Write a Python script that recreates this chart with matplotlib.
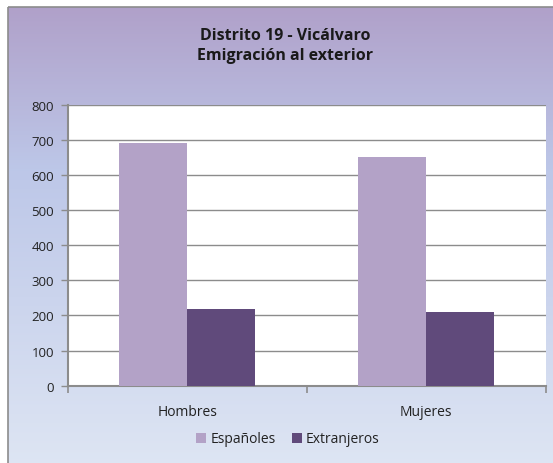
import numpy as np
import matplotlib
matplotlib.use("Agg")
import matplotlib.pyplot as plt
from matplotlib.patches import Rectangle
from matplotlib.colors import LinearSegmentedColormap

categories = ["Hombres", "Mujeres"]
series_names = ["Españoles", "Extranjeros"]
espanoles = [692, 652]
extranjeros = [219, 210]
yticks = [0, 100, 200, 300, 400, 500, 600, 700, 800]
title = "Distrito 19 - Vicálvaro\nEmigración al exterior"

W, H = 553, 464
fig = plt.figure(figsize=(W / 100, H / 100), dpi=100)
fig.patch.set_facecolor("white")

# background gradient
bg = fig.add_axes([0, 0, 1, 1], zorder=-10)
bg.axis("off")
cmap = LinearSegmentedColormap.from_list(
    "bg", [(0.0, (0.69, 0.63, 0.79)), (0.35, (0.74, 0.78, 0.91)), (1.0, (0.87, 0.90, 0.955))]
)
grad = np.linspace(0, 1, 256).reshape(-1, 1)
bg.imshow(grad, cmap=cmap, aspect="auto", extent=[8, W + 5, H + 5, 8], origin="upper")
bg.add_patch(Rectangle((8, 8), W, H, fill=False, edgecolor="#8c8c8c", linewidth=1.2))
bg.set_xlim(0, W)
bg.set_ylim(H, 0)

ax = fig.add_axes([67.7 / W, 1 - 386.6 / H, (545.7 - 67.7) / W, (386.6 - 106) / H])
ax.set_facecolor("white")

x = np.arange(len(categories))
bw = 0.285
ax.bar(x - bw, espanoles, width=bw, align="edge", color="#b3a2c7", label=series_names[0], zorder=3)
ax.bar(x, extranjeros, width=bw, align="edge", color="#604a7b", label=series_names[1], zorder=3)

ax.set_xlim(-0.5, len(categories) - 0.5)
ax.set_ylim(0, 800)
ax.set_yticks(yticks)
ax.yaxis.grid(True, color="#8c8c8c", linewidth=1.0, zorder=0)
ax.set_axisbelow(True)

ax.set_xticks(x)
ax.set_xticklabels(categories)
ax.set_xticks(np.arange(-0.5, len(categories) + 0.5, 1.0), minor=True)
ax.tick_params(axis="x", which="major", length=0, pad=13, labelsize=10, labelcolor="#222222")
ax.tick_params(axis="x", which="minor", length=5, width=1.2, color="#8c8c8c", direction="out")
ax.tick_params(axis="y", length=5, width=1.0, color="#8c8c8c", labelsize=9.5, labelcolor="#222222", pad=5)

for s in ["top", "right"]:
    ax.spines[s].set_visible(False)
for s in ["left", "bottom"]:
    ax.spines[s].set_color("#8c8c8c")
    ax.spines[s].set_linewidth(1.5)

for lbl in ax.get_xticklabels() + ax.get_yticklabels():
    lbl.set_fontfamily("Open Sans")

fig.text(285 / W, 1 - 46 / H, title, ha="center", va="center", fontsize=11.5,
         fontweight="bold", family="Open Sans", color="#1a1a1a", linespacing=1.3)

leg = fig.legend(loc="center", bbox_to_anchor=(288 / W, 1 - 440 / H), ncol=2, frameon=False,
                 prop={"family": "Open Sans", "size": 10}, handlelength=0.7, handleheight=0.7,
                 handletextpad=0.3, columnspacing=1.2)
for t in leg.get_texts():
    t.set_color("#222222")

fig.savefig("out.png", dpi=100)
